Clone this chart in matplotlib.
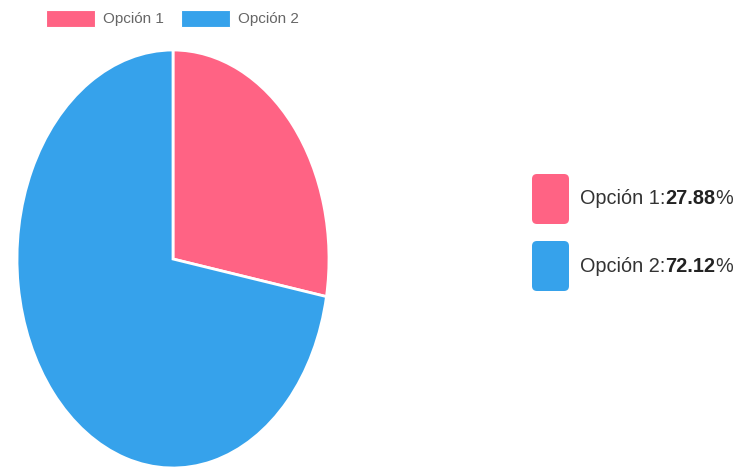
import matplotlib
matplotlib.use("Agg")
import matplotlib.pyplot as plt
from matplotlib.patches import Rectangle, FancyBboxPatch

labels = ["Opción 1", "Opción 2"]
values = [27.88, 72.12]
colors = ["#FF6384", "#36A2EB"]

W, H = 742, 470
fig = plt.figure(figsize=(W / 100, H / 100), dpi=100)

# pie axes (the picture is stretched vertically, so the pie is an ellipse)
ax = fig.add_axes([17 / W, 2 / H, 312 / W, 418 / H])
ax.pie(values, colors=colors, startangle=90, counterclock=False,
       wedgeprops=dict(edgecolor="white", linewidth=2))
ax.set_aspect("auto")
ax.set_xlim(-1.0, 1.0)
ax.set_ylim(-1.0, 1.0)
ax.axis("off")

# overlay axes in pixel coordinates for the legends
ov = fig.add_axes([0, 0, 1, 1], zorder=5)
ov.set_xlim(0, W)
ov.set_ylim(H, 0)
ov.axis("off")

font = ["Liberation Sans", "DejaVu Sans"]

# top legend
top_x = [46, 181]
for i, lab in enumerate(labels):
    ov.add_patch(Rectangle((top_x[i], 10), 49, 17, facecolor=colors[i],
                           edgecolor="white", linewidth=0.8))
    ov.text(top_x[i] + 57, 18.5, lab, fontsize=11, color="#666666",
            va="center", ha="left", family=font)

# right legend with percentages
box_y = [173, 240]
total = sum(values)
fs = 14.3
for i, lab in enumerate(labels):
    ov.add_patch(FancyBboxPatch((532, box_y[i] + 1), 37, 50,
                                boxstyle="round,pad=0,rounding_size=5",
                                facecolor=colors[i], edgecolor="none"))
    cy = box_y[i] + 26
    t1 = ov.text(580, cy, lab + ":", fontsize=fs, color="#333333",
                 va="center", ha="left", family=font)
    fig.canvas.draw()
    x1 = t1.get_window_extent().x1
    pct = values[i] / total * 100
    t2 = ov.annotate(f"{pct:.2f}", xy=(x1, cy), xycoords=("figure pixels", "data"),
                     fontsize=fs, fontweight="bold", color="#222222",
                     va="center", ha="left", family=font)
    fig.canvas.draw()
    x2 = t2.get_window_extent().x1
    ov.annotate("%", xy=(x2, cy), xycoords=("figure pixels", "data"),
                fontsize=fs, color="#333333", va="center", ha="left", family=font)

fig.savefig("out.png", dpi=100)
